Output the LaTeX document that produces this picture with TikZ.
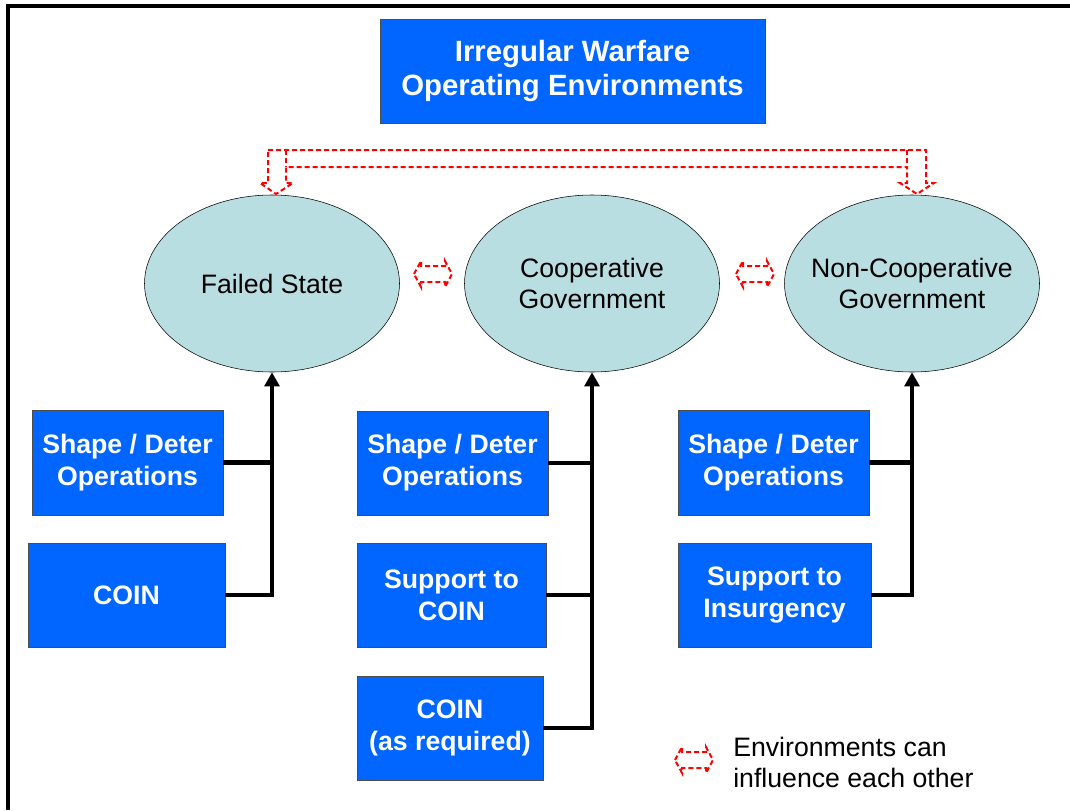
\documentclass[tikz,border=0pt]{standalone}
\usepackage{fontspec}
\setmainfont{Liberation Sans}
\usepackage{tikz}
\usetikzlibrary{shapes.geometric,arrows.meta}
\definecolor{opblue}{RGB}{0,102,255}
\definecolor{envteal}{RGB}{185,222,225}
\newcommand{\feedarrow}{-{Triangle[length=10.5pt,width=11pt]}}
\newcommand{\influence}[1]{%
  \draw[influ,shift={(#1)}] (-19,0) -- (-12,-13) -- (-12,-8) -- (12,-8) -- (12,-13)
    -- (19,0) -- (12,13) -- (12,8) -- (-12,8) -- (-12,13) -- cycle;}
\tikzset{
  opbox/.style={draw=black!70, fill=opblue, text=white, align=center, inner sep=0pt,
    font=\bfseries\fontsize{20}{24}\selectfont},
  sz/.style 2 args={minimum width=#1*0.75pt, minimum height=#2*0.75pt},
  env/.style={ellipse, draw=black, fill=envteal, align=center, inner sep=0pt, inner xsep=-20pt,
    minimum width=191.25pt, minimum height=132.75pt, font=\fontsize{20}{23}\selectfont},
  conn/.style={line width=3.2pt},
  influ/.style={red, line width=1.5pt, dash pattern=on 3.75pt off 2.25pt}
}

\begin{document}
\begin{tikzpicture}[x=0.75pt,y=-0.75pt]
  \useasboundingbox (0,0) rectangle (1070,810);
  \draw[line width=3pt] (8,810) |- (1070,5.5);

  % title
  \node[opbox, sz={385}{104}, font=\bfseries\fontsize{22}{26}\selectfont] (iw) at (572.5,71)
    {Irregular Warfare\\Operating Environments};

  % environments
  \node[env] (fs) at (272,283.5) {Failed State};
  \node[env] (cg) at (592,283.5) {Cooperative\\Government};
  \node[env] (ncg) at (912,283.5) {Non-Cooperative\\Government};

  % operations
  \node[opbox, sz={191}{105}] (fs-sd) at (127.5,462.5) {Shape / Deter\\Operations};
  \node[opbox, sz={197}{104}] (fs-coin) at (126.5,595) {COIN};
  \node[opbox, sz={191}{104}] (cg-sd) at (452.5,463) {Shape / Deter\\Operations};
  \node[opbox, sz={189}{104}] (cg-sup) at (451.5,595) {Support to\\COIN};
  \node[opbox, sz={186}{104}] (cg-coin) at (450,728) {COIN\\(as required)};
  \node[opbox, sz={191}{105}] (ncg-sd) at (773.5,462.5) {Shape / Deter\\Operations};
  \node[opbox, sz={193}{104}] (ncg-sup) at (774.5,595) {Support to\\Insurgency};

  % connectors
  \draw[conn,\feedarrow] (fs-coin.east) -| (fs.south);
  \draw[conn] (fs-sd.east) -- (fs-sd.east -| fs.south);
  \draw[conn,\feedarrow] (cg-coin.east) -| (cg.south);
  \draw[conn] (cg-sd.east) -- (cg-sd.east -| cg.south);
  \draw[conn] (cg-sup.east) -- (cg-sup.east -| cg.south);
  \draw[conn,\feedarrow] (ncg-sup.east) -| (ncg.south);
  \draw[conn] (ncg-sd.east) -- (ncg-sd.east -| ncg.south);

  % influence
  \draw[influ] (268,150) -- (926,150) -- (926,183) -- (934,183) -- (917,194) -- (900,183)
    -- (907,183) -- (907,167) -- (286,167) -- (286,183) -- (293,183) -- (276,194)
    -- (260,183) -- (268,183) -- cycle;
  \draw[influ] (286,150) -- (286,167) (907,150) -- (907,167);
  \influence{433,274}
  \influence{755,274}
  \influence{694,760}
  \node[anchor=west, align=left, inner sep=0pt, font=\fontsize{20}{23}\selectfont] (key)
    at (733,762.5) {Environments can\\influence each other};
\end{tikzpicture}
\end{document}
